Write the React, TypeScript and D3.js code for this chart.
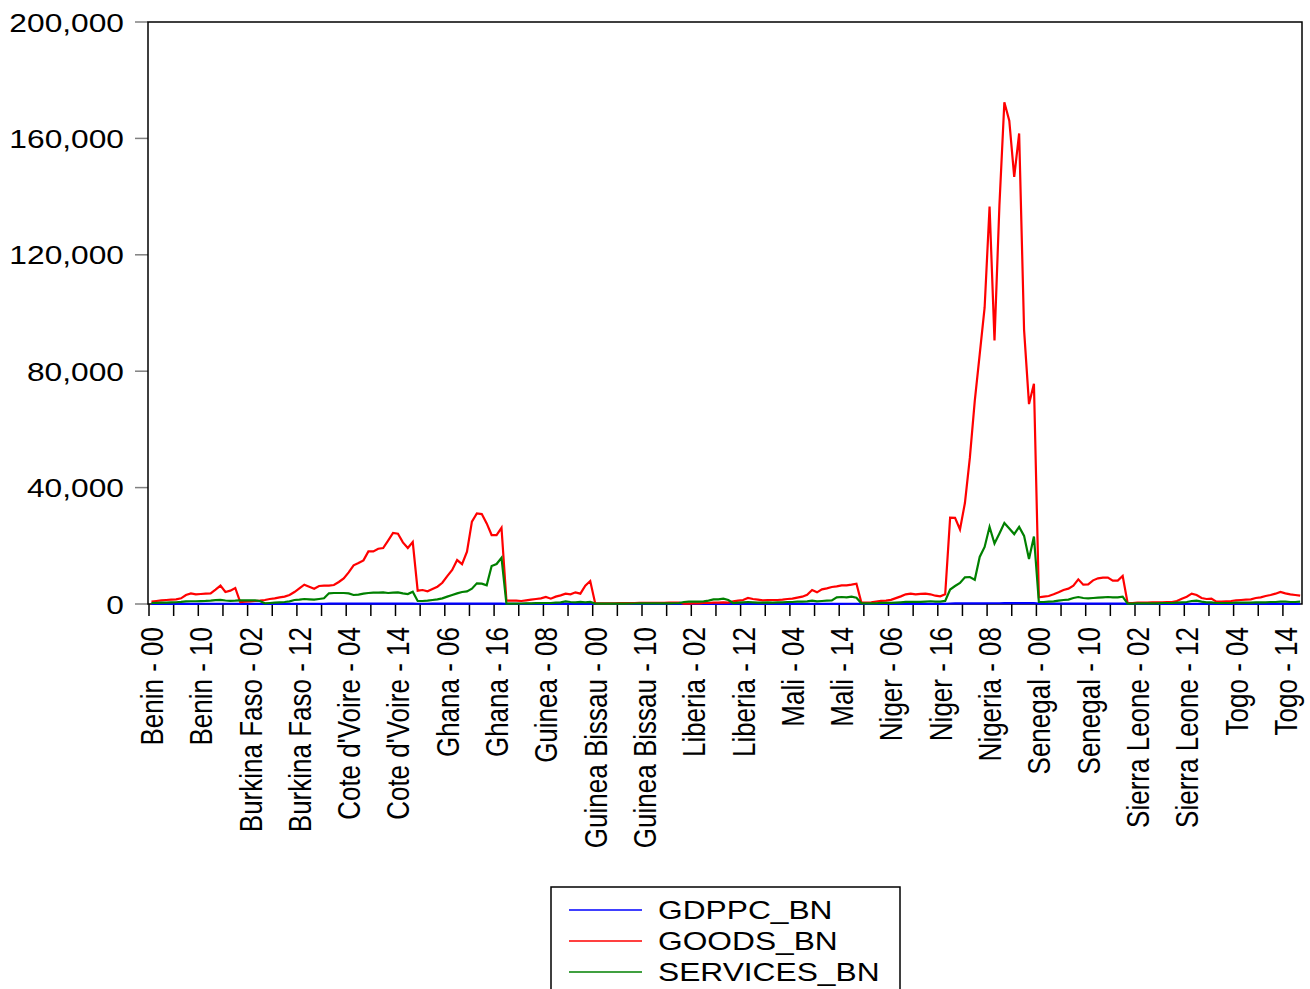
import React from "react";
import * as d3 from "d3";

const countries = [
  "Benin", "Burkina Faso", "Cote d'Voire", "Ghana", "Guinea", "Guinea Bissau",
  "Liberia", "Mali", "Niger", "Nigeria", "Senegal", "Sierra Leone", "Togo",
];
const years = ["00","01","02","03","04","05","06","07","08","09","10","11","12","13","14","15","16","17"];

// GOODS_BN, 18 values per country (2000-2017)
const goods = [
  800, 1030, 1260, 1370, 1490, 1600, 1950, 3090, 3660, 3320, 3430, 3550, 3660, 4920, 6300, 4120, 4580, 5500,
  690, 800, 920, 1030, 1150, 1370, 1720, 1950, 2290, 2520, 3090, 4120, 5380, 6640, 5950, 5270, 6180, 6300,
  6300, 6530, 7560, 8820, 10880, 13280, 14080, 15000, 18090, 18090, 19000, 19240, 21760, 24390, 24160, 21180, 19240, 21300,
  4580, 4810, 4350, 5150, 5950, 7300, 9600, 11700, 15100, 13700, 18000, 28300, 31100, 30900, 27700, 23700, 23700, 26200,
  1150, 1150, 1150, 1030, 1260, 1490, 1720, 1950, 2400, 1830, 2520, 2980, 3550, 3320, 4010, 3550, 6300, 7900,
  250, 230, 220, 240, 260, 280, 300, 320, 350, 380, 400, 420, 400, 380, 420, 450, 480, 500,
  110, 110, 230, 230, 340, 340, 460, 460, 570, 460, 920, 1150, 1370, 2060, 1720, 1490, 1260, 1370,
  1370, 1370, 1490, 1720, 1830, 2180, 2520, 3200, 4810, 4000, 5040, 5380, 5840, 6070, 6410, 6410, 6640, 6980,
  480, 480, 590, 830, 1070, 1190, 1430, 2020, 2620, 3330, 3570, 3330, 3450, 3570, 3330, 2850, 2620, 3330,
  29700, 29600, 25600, 34700, 50200, 69800, 85800, 101900, 136600, 90600, 137000, 172400, 166100, 146800, 161700, 94200, 68700, 75700,
  2290, 2520, 2750, 3320, 4010, 4810, 5270, 6300, 8470, 6640, 6760, 8130, 8820, 9050, 9050, 8020, 8020, 9620,
  340, 340, 460, 460, 460, 570, 570, 570, 690, 690, 1030, 1830, 2520, 3550, 3090, 2060, 1720, 1830,
  800, 800, 920, 1030, 1260, 1370, 1490, 1600, 2060, 2290, 2750, 3090, 3550, 4120, 3660, 3320, 3090, 2860,
];

// SERVICES_BN
const services = [
  350, 400, 450, 500, 550, 600, 700, 900, 950, 950, 1000, 1050, 1150, 1300, 1400, 1200, 1100, 1150,
  1260, 1260, 1260, 1260, 1030, 230, 340, 460, 570, 690, 920, 1370, 1490, 1720, 1600, 1490, 1720, 1950,
  3660, 3780, 3780, 3780, 3660, 3090, 3200, 3550, 3780, 3890, 3890, 4010, 3780, 3890, 4010, 3660, 3430, 4240,
  1030, 1030, 1150, 1370, 1600, 1950, 2520, 3090, 3660, 4120, 4350, 5270, 7100, 6980, 6410, 13050, 13740, 15900,
  110, 120, 150, 180, 200, 230, 280, 320, 340, 350, 450, 570, 900, 690, 570, 700, 580, 700,
  150, 140, 130, 130, 140, 150, 160, 170, 180, 190, 200, 210, 200, 200, 220, 240, 260, 280,
  690, 800, 800, 800, 920, 1150, 1600, 1600, 1830, 1370, 340, 460, 570, 690, 570, 460, 460, 570,
  460, 570, 570, 690, 690, 800, 800, 920, 1150, 920, 1030, 1150, 1260, 2290, 2400, 2290, 2520, 2180,
  240, 240, 240, 240, 360, 360, 360, 480, 590, 710, 710, 710, 710, 830, 950, 830, 830, 1070,
  4990, 6180, 7250, 9160, 9270, 8320, 16170, 19620, 26510, 20810, 24260, 27820, 25920, 24020, 26510, 23420, 15460, 23190,
  690, 690, 800, 920, 1150, 1370, 1490, 2060, 2400, 2060, 1950, 2060, 2180, 2290, 2400, 2290, 2290, 2520,
  110, 110, 230, 230, 230, 230, 230, 340, 340, 340, 460, 570, 690, 1030, 1150, 800, 570, 570,
  340, 340, 340, 340, 460, 460, 460, 460, 570, 570, 570, 690, 690, 800, 800, 690, 690, 800,
];

// GDPPC_BN (tiny relative to axis)
const gdppc = [
  60, 62, 63, 65, 66, 68, 70, 72, 75, 77, 78, 80, 82, 85, 88, 86, 87, 90,
  40, 41, 42, 44, 46, 47, 48, 50, 52, 53, 55, 57, 60, 62, 63, 62, 64, 66,
  120, 118, 116, 115, 114, 113, 112, 113, 115, 112, 114, 110, 116, 122, 128, 132, 136, 140,
  90, 92, 94, 96, 100, 104, 108, 112, 116, 120, 126, 134, 140, 146, 150, 152, 156, 160,
  50, 51, 52, 53, 54, 55, 56, 57, 58, 59, 60, 61, 63, 64, 65, 66, 68, 70,
  45, 44, 43, 43, 44, 45, 46, 47, 48, 48, 49, 50, 50, 51, 52, 53, 54, 55,
  30, 31, 32, 28, 29, 31, 33, 35, 37, 39, 41, 43, 45, 47, 48, 46, 45, 44,
  60, 61, 62, 64, 65, 66, 68, 70, 71, 72, 74, 75, 73, 74, 76, 78, 80, 82,
  40, 40, 41, 42, 42, 43, 44, 45, 45, 46, 47, 48, 49, 50, 51, 52, 52, 53,
  180, 185, 190, 200, 210, 220, 230, 240, 250, 255, 260, 270, 275, 280, 285, 282, 278, 280,
  100, 102, 104, 106, 108, 110, 112, 114, 116, 115, 117, 119, 120, 121, 123, 126, 129, 132,
  35, 36, 38, 40, 42, 44, 45, 46, 47, 48, 49, 50, 52, 55, 50, 48, 49, 50,
  55, 55, 56, 56, 57, 57, 58, 58, 59, 60, 61, 62, 63, 64, 65, 66, 67, 68,
];

const yTicks = [0, 40000, 80000, 120000, 160000, 200000];
const seriesNames = ["GDPPC_BN", "GOODS_BN", "SERVICES_BN"];
const seriesColors = ["#0000ff", "#ff0000", "#008000"];

const obsLabel = (i: number) =>
  `${countries[Math.floor(i / years.length)]} - ${years[i % years.length]}`;

export default function App() {
  const n = goods.length;
  const left = 148, right = 1302, top = 22, bottom = 604;
  const x = d3.scaleLinear().domain([-0.5, n - 0.5]).range([149, 149 + n * 4.93]);
  const y = d3.scaleLinear().domain([0, 200000]).range([bottom, top]);
  const line = d3
    .line<number>()
    .x((_, i) => x(i))
    .y((d) => y(d));
  const data = [gdppc, goods, services];
  const minorTicks = d3.range(0, n, 5);
  const majorTicks = d3.range(0, n, 10);
  const font = "'Liberation Sans', Arial, Helvetica, sans-serif";
  const sx = 1.22;

  return (
    <svg
      width={1310}
      height={989}
      style={{ position: "absolute", left: 0, top: 0, background: "#fff" }}
      fontFamily={font}
    >
      <rect x={0} y={0} width={1310} height={989} fill="#fff" />
      {/* y ticks & labels */}
      {yTicks.map((t) => (
        <g key={t}>
          <line x1={135} x2={left} y1={y(t)} y2={y(t)} stroke="#808080" strokeWidth={1.5} />
          <text
            transform={`translate(124,${y(t) + 9.5}) scale(${sx},1)`}
            textAnchor="end"
            fontSize={26}
            fill="#000"
          >
            {d3.format(",")(t)}
          </text>
        </g>
      ))}
      {/* x ticks */}
      {minorTicks.map((i) => (
        <line
          key={i}
          x1={x(i - 0.5)}
          x2={x(i - 0.5)}
          y1={bottom}
          y2={616}
          stroke="#000"
          strokeWidth={1.5}
        />
      ))}
      {majorTicks.map((i) => (
        <text
          key={i}
          transform={`translate(${x(i) + 11.5},627) scale(${sx},1) rotate(-90)`}
          textAnchor="end"
          fontSize={26}
          fill="#000"
        >
          {obsLabel(i)}
        </text>
      ))}
      {/* frame */}
      <rect
        x={left}
        y={top}
        width={right - left}
        height={bottom - top}
        fill="none"
        stroke="#000"
        strokeWidth={1.5}
      />
      {/* series */}
      {data.map((s, k) => (
        <path
          key={k}
          d={line(s) || ""}
          fill="none"
          stroke={seriesColors[k]}
          strokeWidth={2.2}
          strokeLinejoin="miter"
        />
      ))}
      {/* legend */}
      <rect x={551} y={887} width={349} height={120} fill="#fff" stroke="#000" strokeWidth={1.5} />
      {seriesNames.map((name, k) => (
        <g key={name}>
          <line
            x1={569}
            x2={642}
            y1={910 + k * 31}
            y2={910 + k * 31}
            stroke={seriesColors[k]}
            strokeWidth={1.5}
          />
          <text
            transform={`translate(658,${919 + k * 31}) scale(${sx},1)`}
            fontSize={26}
            fill="#000"
          >
            {name}
          </text>
        </g>
      ))}
    </svg>
  );
}
